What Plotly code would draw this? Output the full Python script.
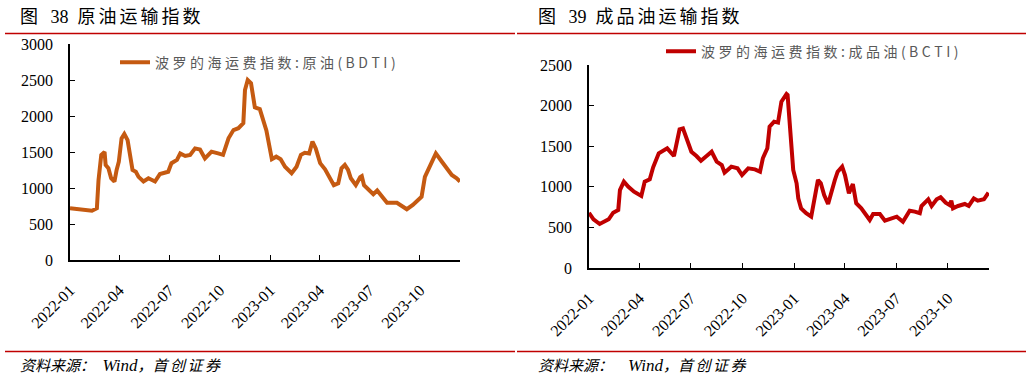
import plotly.graph_objects as go

# ---------------- data ----------------
bdti_dates = ["2022-01-01","2022-01-22","2022-02-10","2022-02-19","2022-02-22","2022-02-27","2022-03-05","2022-03-07",
              "2022-03-12","2022-03-17","2022-03-23","2022-03-27","2022-03-31","2022-04-05","2022-04-10","2022-04-16",
              "2022-04-20","2022-04-25","2022-05-01","2022-05-06","2022-05-15","2022-05-24","2022-06-05","2022-06-14",
              "2022-06-29","2022-07-05","2022-07-15","2022-07-21","2022-07-30","2022-08-08","2022-08-17","2022-08-26",
              "2022-09-04","2022-09-16","2022-09-28","2022-10-07","2022-10-17","2022-10-26","2022-11-04","2022-11-13",
              "2022-11-16","2022-11-21","2022-11-27","2022-12-01","2022-12-04","2022-12-13","2022-12-25","2023-01-04",
              "2023-01-12","2023-01-20","2023-01-28","2023-02-09","2023-02-18","2023-02-26","2023-03-05","2023-03-13",
              "2023-03-19","2023-03-25","2023-04-02","2023-04-11","2023-04-20","2023-04-27","2023-05-05","2023-05-11",
              "2023-05-17","2023-05-23","2023-05-28","2023-06-06","2023-06-14","2023-06-17","2023-06-21","2023-07-02",
              "2023-07-08","2023-07-15","2023-07-23","2023-08-02","2023-08-20","2023-08-29","2023-09-07","2023-09-18",
              "2023-10-04","2023-10-10","2023-10-19","2023-10-30","2023-11-10","2023-11-19","2023-11-28","2023-12-07",
              "2023-12-13"]
bdti_values = [720, 700, 685, 718, 1110, 1460, 1500, 1320,
               1275, 1135, 1090, 1250, 1365, 1690, 1750, 1665,
               1435, 1250, 1225, 1155, 1090, 1135, 1090, 1195,
               1225, 1345, 1390, 1480, 1445, 1460, 1550, 1535,
               1410, 1505, 1480, 1460, 1690, 1805, 1830, 1900,
               2360, 2500, 2455, 2200, 2120, 2095, 1800, 1400,
               1435, 1400, 1295, 1205, 1295, 1460, 1490, 1480,
               1645, 1550, 1345, 1260, 1135, 1040, 1065, 1275,
               1320, 1250, 1135, 1040, 1150, 1165, 1040, 970,
               915, 965, 880, 795, 795, 750, 705, 765,
               880, 1155, 1295, 1480, 1365, 1260, 1180, 1135,
               1090]

bcti_dates = ["2022-01-01","2022-01-09","2022-01-20","2022-01-29","2022-02-05","2022-02-13","2022-02-22","2022-02-25",
              "2022-03-04","2022-03-12","2022-03-22","2022-04-04","2022-04-10","2022-04-19","2022-04-25","2022-05-05",
              "2022-05-13","2022-05-20","2022-06-01","2022-06-11","2022-06-17","2022-06-23","2022-07-02","2022-07-11",
              "2022-07-19","2022-07-29","2022-08-07","2022-08-16","2022-08-25","2022-08-30","2022-09-11","2022-09-22",
              "2022-09-30","2022-10-11","2022-10-23","2022-11-01","2022-11-06","2022-11-14","2022-11-18","2022-11-26",
              "2022-12-03","2022-12-09","2022-12-18","2022-12-20","2022-12-24","2022-12-30","2023-01-05","2023-01-08",
              "2023-01-13","2023-01-22","2023-01-31","2023-02-05","2023-02-12","2023-02-17","2023-02-23","2023-03-02",
              "2023-03-08","2023-03-14","2023-03-19","2023-03-27","2023-04-01","2023-04-08","2023-04-15","2023-04-21",
              "2023-04-30","2023-05-06","2023-05-15","2023-05-21","2023-06-02","2023-06-11","2023-06-23","2023-07-02",
              "2023-07-13","2023-07-25","2023-08-03","2023-08-12","2023-08-15","2023-08-27","2023-09-02","2023-09-11",
              "2023-09-18","2023-09-27","2023-10-04","2023-10-07","2023-10-10","2023-10-19","2023-10-31","2023-11-07",
              "2023-11-16","2023-11-23","2023-12-04","2023-12-12"]
bcti_values = [680, 600, 542, 570, 600, 681, 714, 960,
               1063, 1001, 940, 887, 1063, 1092, 1240, 1412,
               1445, 1474, 1379, 1708, 1720, 1617, 1432, 1379,
               1321, 1379, 1432, 1309, 1268, 1174, 1248, 1228,
               1145, 1228, 1215, 1186, 1351, 1474, 1740, 1802,
               1790, 2048, 2143, 2130, 1700, 1207, 1043, 858,
               735, 674, 632, 837, 1084, 1043, 899, 788,
               960, 1084, 1186, 1248, 1145, 920, 1034, 797,
               735, 681, 591, 665, 665, 583, 612, 632,
               570, 706, 694, 674, 764, 846, 764, 846,
               871, 804, 776, 829, 735, 764, 788, 764,
               858, 829, 846, 927]

title_nums = ["38", "39"]
title_texts = ["原油运输指数", "成品油运输指数"]
series_names = ["波罗的海运费指数:原油(BDTI)", "波罗的海运费指数:成品油(BCTI)"]
x_range = ["2022-01-01", "2023-12-13"]
y_max = [3000, 2500]
colors = ["#C55A11", "#C00000"]

W, H = 1032, 379


def px_x(p):
    return p / W


def px_y(p):
    return 1 - p / H


def spaced(s, sep="\u2005"):
    return sep.join(list(s))


fig = go.Figure()
fig.add_trace(go.Scatter(x=bdti_dates, y=bdti_values, mode="lines", name=spaced(series_names[0]),
                         line=dict(color=colors[0], width=4), xaxis="x", yaxis="y", legend="legend"))
fig.add_trace(go.Scatter(x=bcti_dates, y=bcti_values, mode="lines", name=spaced(series_names[1]),
                         line=dict(color=colors[1], width=4), xaxis="x2", yaxis="y2", legend="legend2"))

tick_font = dict(family="Liberation Serif, Times New Roman, serif", size=16, color="#000000")

common_x = dict(type="date", range=x_range, dtick="M3", tick0="2022-01-01", tickformat="%Y-%m",
                tickangle=-45, ticks="inside", ticklen=5, tickwidth=1.3, tickcolor="#000000",
                showline=True, linecolor="#000000", linewidth=1.5, showgrid=False, zeroline=False,
                tickfont=tick_font, ticklabelstandoff=13, fixedrange=True, automargin=False)
common_y = dict(dtick=500, ticks="inside", ticklen=5, tickwidth=1.3, tickcolor="#000000",
                showline=True, linecolor="#000000", linewidth=1.5, showgrid=False, zeroline=False,
                tickfont=tick_font, ticklabelstandoff=12, fixedrange=True, automargin=False)

legend_font = dict(family="Noto Sans CJK SC", size=14, color="#595959")

fig.update_layout(
    width=W, height=H, autosize=False,
    margin=dict(l=0, r=0, t=0, b=0, autoexpand=False),
    paper_bgcolor="white", plot_bgcolor="white",
    xaxis=dict(domain=[px_x(70), px_x(460)], anchor="y", **common_x),
    yaxis=dict(domain=[px_y(260), px_y(44)], anchor="x", range=[0, y_max[0]], **common_y),
    xaxis2=dict(domain=[px_x(589), px_x(989)], anchor="y2", **common_x),
    yaxis2=dict(domain=[px_y(268), px_y(65)], anchor="x2", range=[0, y_max[1]], **common_y),
    legend=dict(x=px_x(115), y=px_y(62.7), xanchor="left", yanchor="middle",
                bgcolor="rgba(0,0,0,0)", borderwidth=0, font=legend_font),
    legend2=dict(x=px_x(661), y=px_y(51.7), xanchor="left", yanchor="middle",
                 bgcolor="rgba(0,0,0,0)", borderwidth=0, font=legend_font),
    showlegend=True,
)

red = "#C00000"
shapes = []
for x0, x1 in [(5, 515), (517, 1026)]:
    for yy in [33.5, 351.5]:
        shapes.append(dict(type="line", xref="paper", yref="paper",
                           x0=px_x(x0), x1=px_x(x1), y0=px_y(yy), y1=px_y(yy),
                           line=dict(color=red, width=1.6)))
fig.update_layout(shapes=shapes)

annotations = []
for i, xs in enumerate([18, 536]):
    t = "图\u2002\u2009" + title_nums[i] + "\u2002" + spaced(title_texts[i], "\u2006")
    annotations.append(dict(text=t, xref="paper", yref="paper", x=px_x(xs), y=px_y(17),
                            xanchor="left", yanchor="middle", showarrow=False,
                            font=dict(family="Liberation Serif, Noto Sans CJK SC", size=18, color="#000000")))
source_texts = ["资料来源：\u2002<span style='font-size:17px'>Wind</span>，" + spaced("首创证券", "\u2006"),
                "资料来源：\u2003<span style='font-size:17px'>Wind</span>，" + spaced("首创证券", "\u2006")]
for i, xs in enumerate([18, 536]):
    annotations.append(dict(text="<i>" + source_texts[i] + "</i>", xref="paper", yref="paper",
                            x=px_x(xs), y=px_y(365), xanchor="left", yanchor="middle", showarrow=False,
                            font=dict(family="Liberation Serif, Noto Sans CJK SC", size=15, color="#000000")))
fig.update_layout(annotations=annotations)

fig.write_html("out.html", config={"displayModeBar": False},
               post_script="document.body.style.margin='0';document.body.style.padding='0';")
